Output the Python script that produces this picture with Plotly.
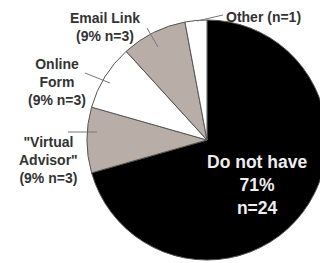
import plotly.graph_objects as go

categories = ["Do not have", "\"Virtual Advisor\"", "Online Form", "Email Link", "Other"]
counts = [24, 3, 3, 3, 1]
colors = ["#000000", "#b9ada8", "#ffffff", "#b9ada8", "#ffffff"]

W, H = 328, 263
OFF = 8  # page body margin
def px(x): return (x - OFF) / W
def py(y): return 1 - (y - OFF) / H

total = sum(counts)
pcts = [round(100 * c / total) for c in counts]

fig = go.Figure(go.Pie(
    labels=categories, values=counts, sort=False, direction="clockwise",
    rotation=0, textinfo="none", hoverinfo="label+value",
    marker=dict(colors=colors, line=dict(color="#555555", width=1)),
    domain=dict(x=[px(87), px(327)], y=[py(260), py(20)]),
    showlegend=False,
))

font = dict(family="Liberation Sans, Arial", size=14, color="#333333")
bold = lambda s: "<b>" + s + "</b>"
ann = []
ann.append(dict(x=px(105), y=py(27), text=bold(f"Email Link<br>({pcts[3]}% n={counts[3]})")))
ann.append(dict(x=px(263), y=py(17), text=bold(f"Other (n={counts[4]})")))
ann.append(dict(x=px(57), y=py(82), text=bold(f"Online<br>Form<br>({pcts[2]}% n={counts[2]})")))
ann.append(dict(x=px(48), y=py(160), text=bold(f"\"Virtual<br>Advisor\"<br>({pcts[1]}% n={counts[1]})")))
for a in ann:
    a.update(xref="paper", yref="paper", showarrow=False, font=font, align="center",
             xanchor="center", yanchor="middle")
ann.append(dict(x=px(257), y=py(185), xref="paper", yref="paper", showarrow=False,
                xanchor="center", yanchor="middle",
                text=bold(f"Do not have<br>{pcts[0]}%<br>n={counts[0]}"),
                font=dict(family="Liberation Sans, Arial", size=17.5, color="#eeeeee"), align="center"))

lines = [((147, 28), (158, 47)), ((223, 15), (197, 21)), ((85, 73), (110, 83)), ((68, 132), (97, 132))]
shapes = [dict(type="line", xref="paper", yref="paper", x0=px(a[0]), y0=py(a[1]), x1=px(b[0]), y1=py(b[1]),
               line=dict(color="#777777", width=1)) for a, b in lines]

fig.update_layout(width=W, height=H, margin=dict(l=0, r=0, t=0, b=0),
                  paper_bgcolor="white", plot_bgcolor="white",
                  annotations=ann, shapes=shapes)
fig.write_html("out.html")
